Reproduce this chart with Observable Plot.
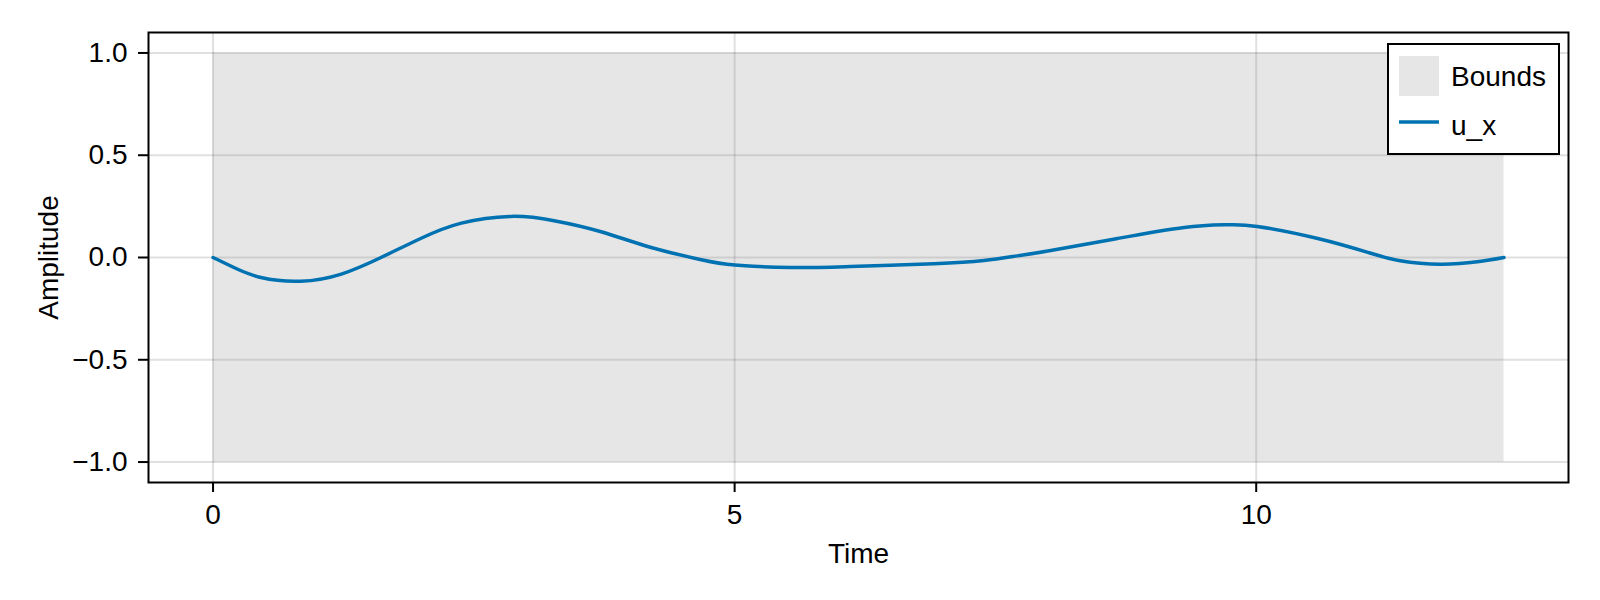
<!DOCTYPE html>
<html>
<head>
<meta charset="utf-8">
<script src="https://cdn.jsdelivr.net/npm/d3@7"></script>
<script src="https://cdn.jsdelivr.net/npm/@observablehq/plot@0.6"></script>
<style>
  html, body { margin: 0; padding: 0; background: #fff; }
  #wrap { position: relative; width: 1600px; height: 600px; font-family: "Liberation Sans", Arial, sans-serif; }
  #legend { position: absolute; left: 0; top: 0; }
</style>
</head>
<body>
<div id="wrap"></div>
<script>
// ---- data ----
const timeValues = [0, 0.20, 0.46, 0.84, 1.23, 1.61, 1.99, 2.38, 2.86, 3.27, 3.72, 4.20, 4.68, 5.00, 5.54, 6.11, 6.91, 7.39, 7.71, 8.03, 8.67, 9.31, 9.72, 10.01, 10.59, 11.07, 11.38, 11.77, 12.12, 12.375];
const uxValues   = [0, -0.049, -0.098, -0.116, -0.081, 0.0, 0.093, 0.168, 0.201, 0.18, 0.126, 0.049, -0.011, -0.037, -0.049, -0.044, -0.031, -0.015, 0.008, 0.034, 0.093, 0.147, 0.160, 0.152, 0.093, 0.025, -0.016, -0.033, -0.021, 0];
const boundsLower = -1;
const boundsUpper = 1;
const xTicks = [0, 5, 10];
const yTicks = [-1, -0.5, 0, 0.5, 1];
const legendLabels = ["Bounds", "u_x"];

const lineColor = "#0072b2";
const fontFamily = "Liberation Sans, Arial, sans-serif";
const fontPx = 28;

const series = timeValues.map((t, i) => ({t, u: uxValues[i]}));
const tStart = timeValues[0], tEnd = timeValues[timeValues.length - 1];
const pad = 0.05 * (tEnd - tStart);
const band = [{x1: tStart, x2: tEnd, y1: boundsLower, y2: boundsUpper}];

const chart = Plot.plot({
  width: 1600,
  height: 600,
  marginLeft: 148,
  marginRight: 32,
  marginTop: 32,
  marginBottom: 118,
  style: {fontFamily, fontSize: fontPx + "px", color: "black", background: "white"},
  x: {domain: [tStart - pad, tEnd + pad]},
  y: {domain: [boundsLower - 0.1, boundsUpper + 0.1]},
  marks: [
    Plot.gridX(xTicks, {stroke: "#000", strokeOpacity: 0.12, strokeWidth: 2}),
    Plot.gridY(yTicks, {stroke: "#000", strokeOpacity: 0.12, strokeWidth: 2}),
    Plot.rect(band, {x1: "x1", x2: "x2", y1: "y1", y2: "y2", fill: "gray", fillOpacity: 0.2}),
    Plot.line(series, {x: "t", y: "u", stroke: lineColor, strokeWidth: 3.5, curve: "natural"}),
    Plot.frame({stroke: "black", strokeWidth: 2}),
    Plot.axisX({ticks: xTicks, tickSize: 10, tickPadding: 12, strokeWidth: 2, fontSize: fontPx, label: "Time", labelAnchor: "center", labelArrow: "none", labelOffset: 80}),
    Plot.axisY({ticks: yTicks, tickSize: 10, tickPadding: 11, strokeWidth: 2, fontSize: fontPx, tickFormat: ".1f", label: "Amplitude", labelAnchor: "center", labelArrow: "none", labelOffset: 110})
  ]
});

const wrap = document.getElementById("wrap");
wrap.appendChild(chart);

// legend overlay drawn inside the plot area (top-right)
const ns = "http://www.w3.org/2000/svg";
const leg = document.createElementNS(ns, "svg");
leg.setAttribute("id", "legend");
leg.setAttribute("width", 1600);
leg.setAttribute("height", 600);
leg.style.pointerEvents = "none";
function el(name, attrs, text) {
  const e = document.createElementNS(ns, name);
  for (const k in attrs) e.setAttribute(k, attrs[k]);
  if (text != null) e.textContent = text;
  leg.appendChild(e);
  return e;
}
el("rect", {x: 1388, y: 44, width: 171, height: 110, fill: "white", stroke: "black", "stroke-width": 2});
el("rect", {x: 1399, y: 56, width: 40, height: 40, fill: "gray", "fill-opacity": 0.2});
el("line", {x1: 1399, x2: 1439, y1: 122, y2: 122, stroke: lineColor, "stroke-width": 3.5});
el("text", {x: 1451, y: 86, "font-family": fontFamily, "font-size": fontPx, fill: "black"}, legendLabels[0]);
el("text", {x: 1451, y: 135, "font-family": fontFamily, "font-size": fontPx, fill: "black"}, legendLabels[1]);
wrap.appendChild(leg);
</script>
</body>
</html>
